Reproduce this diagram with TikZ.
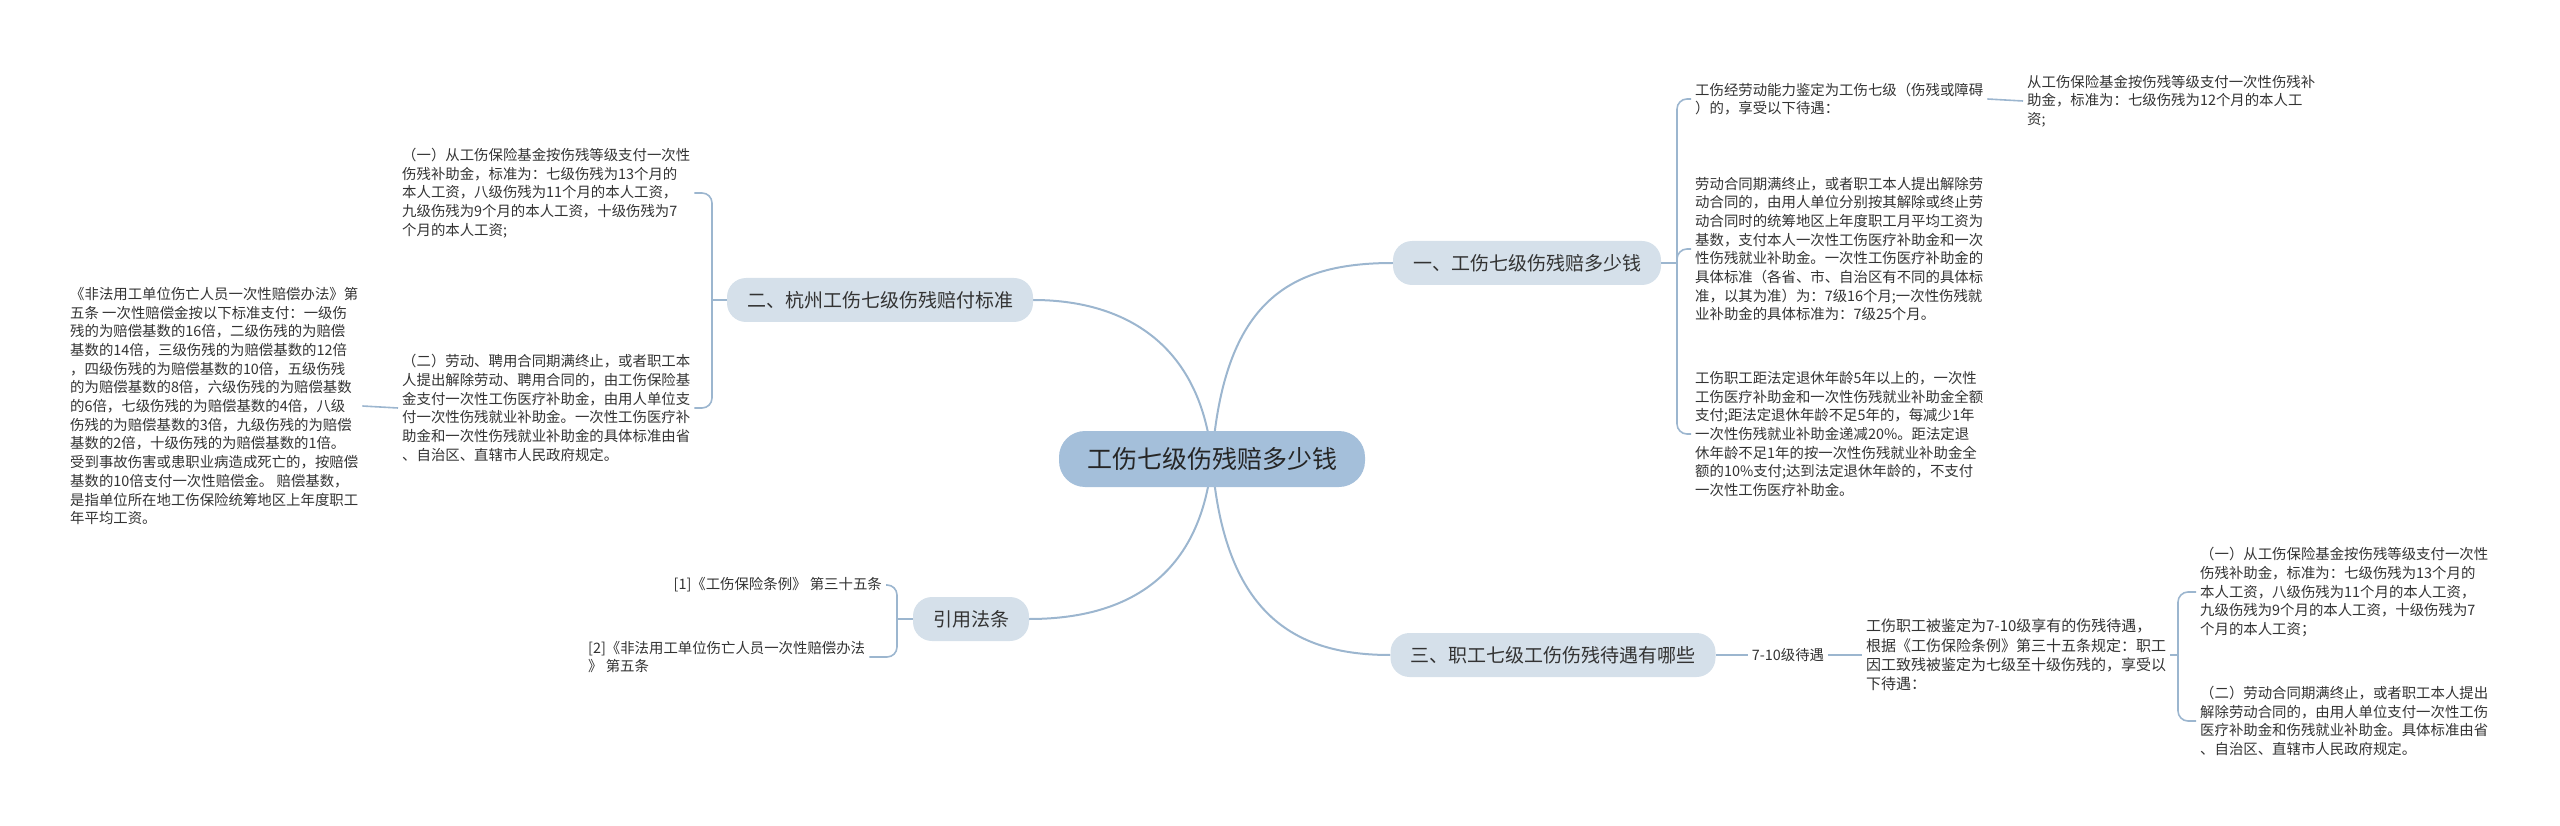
\documentclass[tikz,border=0pt]{standalone}
\usepackage{fontspec}
\setmainfont{Noto Sans CJK SC}
\usepackage{tikz}
\usetikzlibrary{backgrounds}
\definecolor{rootfill}{HTML}{A4BFDA}
\definecolor{topicfill}{HTML}{D5E0EA}
\definecolor{linkc}{HTML}{9CB6CF}
\definecolor{textc}{HTML}{333333}

\begin{document}
\begin{tikzpicture}[x=1pt, y=-1pt,
    root/.style={rounded corners=26pt, fill=rootfill, minimum height=56pt, inner xsep=28pt, font=\fontsize{25}{30}\selectfont, text=black!85},
    topic/.style={rounded corners=19pt, fill=topicfill, minimum height=44pt, inner xsep=20pt, font=\fontsize{19}{23}\selectfont, text=textc},
    leaf/.style={align=left, inner xsep=4pt, inner ysep=0pt, font=\fontsize{14.4}{18.7}\selectfont, text=textc},
    link/.style={draw=linkc, line width=2pt},
    fork/.style={draw=linkc, line width=1.6pt, rounded corners=10pt}
]
    \useasboundingbox (0,0) rectangle (2560,826);

    \node[root] (root) at (1212,459) {工伤七级伤残赔多少钱};
    \node[topic] (peifu) at (1527,263) {一、工伤七级伤残赔多少钱};
    \node[topic] (hangzhou) at (880,300) {二、杭州工伤七级伤残赔付标准};
    \node[topic] (fatiao) at (971,619) {引用法条};
    \node[topic] (daiyu) at (1553,655) {三、职工七级工伤伤残待遇有哪些};

    % 一
    \node[leaf, anchor=west] (jianding) at (1691,99) {工伤经劳动能力鉴定为工伤七级（伤残或障碍\\）的，享受以下待遇：};
    \node[leaf, anchor=west] (buzhu) at (2023,101) {从工伤保险基金按伤残等级支付一次性伤残补\\助金，标准为：七级伤残为12个月的本人工\\资;};
    \node[leaf, anchor=west] (hetong) at (1691,249) {劳动合同期满终止，或者职工本人提出解除劳\\动合同的，由用人单位分别按其解除或终止劳\\动合同时的统筹地区上年度职工月平均工资为\\基数，支付本人一次性工伤医疗补助金和一次\\性伤残就业补助金。一次性工伤医疗补助金的\\具体标准（各省、市、自治区有不同的具体标\\准，以其为准）为：7级16个月;一次性伤残就\\业补助金的具体标准为：7级25个月。};
    \node[leaf, anchor=west] (tuixiu) at (1691,434) {工伤职工距法定退休年龄5年以上的，一次性\\工伤医疗补助金和一次性伤残就业补助金全额\\支付;距法定退休年龄不足5年的，每减少1年\\一次性伤残就业补助金递减20\%。距法定退\\休年龄不足1年的按一次性伤残就业补助金全\\额的10\%支付;达到法定退休年龄的，不支付\\一次性工伤医疗补助金。};

    % 二
    \node[leaf, anchor=west] (hzone) at (398,193) {（一）从工伤保险基金按伤残等级支付一次性\\伤残补助金，标准为：七级伤残为13个月的\\本人工资，八级伤残为11个月的本人工资，\\九级伤残为9个月的本人工资，十级伤残为7\\个月的本人工资;};
    \node[leaf, anchor=west] (hztwo) at (398,408) {（二）劳动、聘用合同期满终止，或者职工本\\人提出解除劳动、聘用合同的，由工伤保险基\\金支付一次性工伤医疗补助金，由用人单位支\\付一次性伤残就业补助金。一次性工伤医疗补\\助金和一次性伤残就业补助金的具体标准由省\\、自治区、直辖市人民政府规定。};
    \node[leaf, anchor=west] (feifa) at (66,406) {《非法用工单位伤亡人员一次性赔偿办法》第\\五条 一次性赔偿金按以下标准支付：一级伤\\残的为赔偿基数的16倍，二级伤残的为赔偿\\基数的14倍，三级伤残的为赔偿基数的12倍\\，四级伤残的为赔偿基数的10倍，五级伤残\\的为赔偿基数的8倍，六级伤残的为赔偿基数\\的6倍，七级伤残的为赔偿基数的4倍，八级\\伤残的为赔偿基数的3倍，九级伤残的为赔偿\\基数的2倍，十级伤残的为赔偿基数的1倍。\\受到事故伤害或患职业病造成死亡的，按赔偿\\基数的10倍支付一次性赔偿金。 赔偿基数，\\是指单位所在地工伤保险统筹地区上年度职工\\年平均工资。};

    % 引用法条
    \node[leaf, anchor=east] (tiaoli) at (886,585) {[1]《工伤保险条例》 第三十五条};
    \node[leaf, anchor=west] (banfa) at (584,657) {[2]《非法用工单位伤亡人员一次性赔偿办法\\》 第五条};

    % 三
    \node[leaf, inner xsep=4pt] (grade) at (1788,655) {7-10级待遇};
    \node[leaf, anchor=west, font=\fontsize{15}{19.4}\selectfont] (jiding) at (1862,655) {工伤职工被鉴定为7-10级享有的伤残待遇，\\根据《工伤保险条例》第三十五条规定：职工\\因工致残被鉴定为七级至十级伤残的，享受以\\下待遇：};
    \node[leaf, anchor=west] (dyone) at (2196,592) {（一）从工伤保险基金按伤残等级支付一次性\\伤残补助金，标准为：七级伤残为13个月的\\本人工资，八级伤残为11个月的本人工资，\\九级伤残为9个月的本人工资，十级伤残为7\\个月的本人工资；};
    \node[leaf, anchor=west] (dytwo) at (2196,721) {（二）劳动合同期满终止，或者职工本人提出\\解除劳动合同的，由用人单位支付一次性工伤\\医疗补助金和伤残就业补助金。具体标准由省\\、自治区、直辖市人民政府规定。};

    \begin{scope}[on background layer]
        \draw[link] (root.center) .. controls (1224,300) and (1290,263) .. (peifu.west);
        \draw[link] (root.center) .. controls (1200,340) and (1120,300) .. (hangzhou.east);
        \draw[link] (root.center) .. controls (1200,590) and (1110,619) .. (fatiao.east);
        \draw[link] (root.center) .. controls (1224,620) and (1300,655) .. (daiyu.west);
    \end{scope}

    \draw[fork] (peifu.east) -- (1677,263);
    \foreach \c in {jianding,hetong,tuixiu}
        \draw[fork] (1677,263) |- (\c.west);
    \draw[fork] (jianding.east) -- (buzhu.west);

    \draw[fork] (hangzhou.west) -- (712,300);
    \foreach \c in {hzone,hztwo}
        \draw[fork] (712,300) |- (\c.east);
    \draw[fork] (hztwo.west) -- (feifa.east);

    \draw[fork] (fatiao.west) -- (897,619);
    \foreach \c in {tiaoli,banfa}
        \draw[fork] (897,619) |- (\c.east);

    \draw[fork] (daiyu.east) -- (grade.west);
    \draw[fork] (grade.east) -- (jiding.west);
    \draw[fork] (jiding.east) -- (2178,655);
    \foreach \c in {dyone,dytwo}
        \draw[fork] (2178,655) |- (\c.west);
\end{tikzpicture}
\end{document}
